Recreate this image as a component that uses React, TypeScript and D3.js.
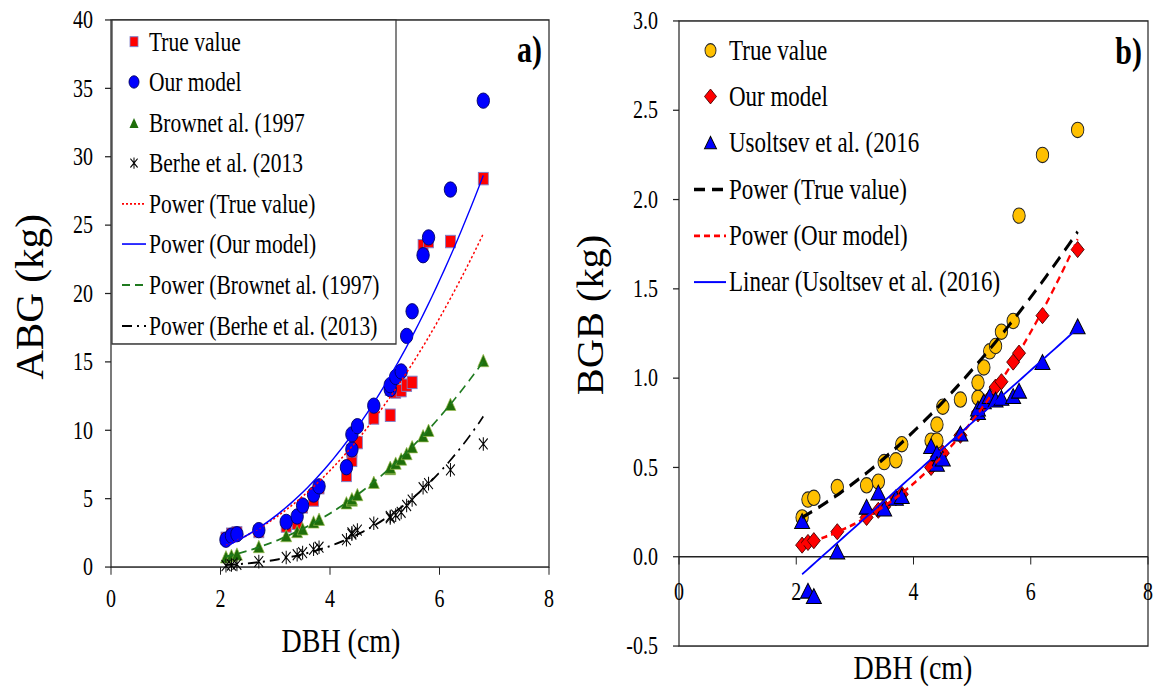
import React from 'react';
import * as d3 from 'd3';

// DBH (cm) of the 24 sampled trees, shared by both panels
const dbh = [2.1, 2.2, 2.3, 2.7, 3.2, 3.4, 3.5, 3.7, 3.8, 4.3, 4.4, 4.4, 4.5, 4.8, 5.1, 5.1, 5.2, 5.3, 5.4, 5.5, 5.7, 5.8, 6.2, 6.8];

// panel a) ABG (kg)
const abgTrue = [2.1, 2.4, 2.5, 2.6, 3.0, 3.2, 4.4, 4.9, 5.8, 6.7, 7.8, 8.5, 9.1, 10.9, 11.1, 13.0, 12.8, 12.9, 13.3, 13.5, 23.5, 23.8, 23.8, 28.4];
const abgOur = [2.0, 2.3, 2.4, 2.7, 3.3, 3.7, 4.5, 5.3, 5.9, 7.3, 8.6, 9.7, 10.3, 11.8, 13.0, 13.3, 13.9, 14.3, 16.9, 18.7, 22.8, 24.1, 27.6, 34.1];
const abgBrown = [0.75, 0.85, 0.95, 1.5, 2.3, 2.6, 2.8, 3.3, 3.5, 4.7, 4.9, 5.0, 5.3, 6.2, 7.2, 7.3, 7.6, 7.9, 8.3, 8.8, 9.6, 10.0, 11.9, 15.1];
const abgBerhe = [0.1, 0.15, 0.2, 0.4, 0.7, 0.9, 1.05, 1.3, 1.45, 2.0, 2.4, 2.5, 2.7, 3.2, 3.6, 3.7, 3.8, 4.0, 4.5, 4.9, 5.8, 6.1, 7.1, 9.0];

// panel b) BGB (kg)
const bgbTrue = [0.22, 0.32, 0.33, 0.39, 0.4, 0.42, 0.53, 0.54, 0.63, 0.65, 0.65, 0.74, 0.84, 0.88, 0.89, 0.975, 1.06, 1.15, 1.18, 1.26, 1.32, 1.91, 2.25, 2.39];
const bgbOur = [0.065, 0.08, 0.09, 0.14, 0.22, 0.26, 0.28, 0.33, 0.35, 0.5, 0.55, 0.56, 0.58, 0.68, 0.8, 0.81, 0.85, 0.89, 0.95, 0.98, 1.09, 1.14, 1.35, 1.72];
const bgbUsol = [0.2, -0.19, -0.22, 0.03, 0.28, 0.36, 0.27, 0.33, 0.34, 0.62, 0.58, 0.52, 0.55, 0.69, 0.81, 0.83, 0.87, 0.9, 0.88, 0.89, 0.9, 0.93, 1.09, 1.29];

const xTicks = [0, 2, 4, 6, 8];
const yTicksA = [0, 5, 10, 15, 20, 25, 30, 35, 40];
const yTicksB = [-0.5, 0, 0.5, 1, 1.5, 2, 2.5, 3];

const legendA = ['True value', 'Our model', 'Brownet al. (1997', 'Berhe et al. (2013', 'Power (True value)', 'Power (Our model)', 'Power (Brownet al. (1997)', 'Power (Berhe et al. (2013)'];
const legendB = ['True value', 'Our model', 'Usoltsev et al. (2016', 'Power (True value)', 'Power (Our model)', 'Linear (Usoltsev et al. (2016)'];

const W = 1153;
const H = 688;
const SY = 1.24; // the source figure is stretched vertically
const FONT = '"Liberation Serif", "Times New Roman", serif';

// least squares fits, like the spreadsheet trendlines
function linFit(xs: number[], ys: number[]) {
  const mx = d3.mean(xs)!;
  const my = d3.mean(ys)!;
  let sxy = 0, sxx = 0;
  xs.forEach((x, i) => { sxy += (x - mx) * (ys[i] - my); sxx += (x - mx) * (x - mx); });
  const b = sxy / sxx;
  return { a: my - b * mx, b };
}
function powerCurve(xs: number[], ys: number[]) {
  const f = linFit(xs.map(Math.log), ys.map(Math.log));
  return (x: number) => Math.exp(f.a) * Math.pow(x, f.b);
}
function linearCurve(xs: number[], ys: number[]) {
  const f = linFit(xs, ys);
  return (x: number) => f.a + f.b * x;
}
function sample(fn: (x: number) => number, xs: number[]): [number, number][] {
  const [lo, hi] = d3.extent(xs) as [number, number];
  return d3.range(61).map(i => {
    const x = lo + ((hi - lo) * i) / 60;
    return [x, fn(x)];
  });
}

const tri = (x: number, y: number, w: number, h: number) =>
  `M${x},${y - h / 2}L${x + w / 2},${y + h / 2}L${x - w / 2},${y + h / 2}Z`;
const diamond = (x: number, y: number, r: number) =>
  `M${x},${y - r}L${x + r},${y}L${x},${y + r}L${x - r},${y}Z`;
const star = (x: number, y: number, r: number) =>
  `M${x - r * 0.8},${y - r * 0.8}L${x + r * 0.8},${y + r * 0.8}M${x - r * 0.8},${y + r * 0.8}L${x + r * 0.8},${y - r * 0.8}M${x},${y - r}L${x},${y + r}`;

export default function App() {
  const xA = d3.scaleLinear().domain([0, 8]).range([111, 549]);
  const yA = d3.scaleLinear().domain([0, 40]).range([457.3, 16.1]);
  const xB = d3.scaleLinear().domain([0, 8]).range([679, 1148]);
  const yB = d3.scaleLinear().domain([-0.5, 3]).range([521, 16.9]);

  const lineA = d3.line<[number, number]>().x(d => xA(d[0])).y(d => yA(d[1]));
  const lineB = d3.line<[number, number]>().x(d => xB(d[0])).y(d => yB(d[1]));

  const fitA = [
    { pts: sample(powerCurve(dbh, abgTrue), dbh), stroke: '#ff0000', w: 1.4, dash: '2,2' },
    { pts: sample(powerCurve(dbh, abgOur), dbh), stroke: '#0000ff', w: 1.3, dash: '' },
    { pts: sample(powerCurve(dbh, abgBrown), dbh), stroke: '#1f7a1f', w: 1.5, dash: '8,5' },
    { pts: sample(powerCurve(dbh, abgBerhe), dbh), stroke: '#000000', w: 1.6, dash: '10,5,2,5' },
  ];
  const fitB = [
    { pts: sample(powerCurve(dbh, bgbTrue), dbh), stroke: '#000000', w: 2.8, dash: '11,7' },
    { pts: sample(powerCurve(dbh, bgbOur), dbh), stroke: '#ff0000', w: 2.2, dash: '6,4' },
    { pts: sample(linearCurve(dbh, bgbUsol), dbh), stroke: '#0000ff', w: 1.6, dash: '' },
  ];

  const legYA = [33.6, 66.1, 99.2, 131.5, 164.5, 196.8, 229.8, 262.9];
  const legYB = [40.7, 77.8, 115, 152.9, 190.3, 227.5];

  return (
    <svg width={W} height={H} style={{ position: 'absolute', left: 0, top: 0, background: '#fff' }} fontFamily={FONT}>
      <g transform={`scale(1,${SY})`}>
        {/* ---------- panel a ---------- */}
        <rect x={111} y={16.1} width={438} height={457.3 - 16.1} fill="none" stroke="#222" strokeWidth={1.2} />
        {yTicksA.map(t => (
          <g key={'ya' + t}>
            <line x1={105} x2={111} y1={yA(t)} y2={yA(t)} stroke="#222" />
            <text x={93} y={yA(t)} textAnchor="end" dominantBaseline="central" fontSize={20}>{t}</text>
          </g>
        ))}
        {xTicks.map(t => (
          <g key={'xa' + t}>
            <line x1={xA(t)} x2={xA(t)} y1={457.3} y2={463.5} stroke="#222" />
            <text x={xA(t)} y={483} textAnchor="middle" dominantBaseline="central" fontSize={20}>{t}</text>
          </g>
        ))}
        <text transform="translate(30,239.5) rotate(-90) scale(0.83,1)" textAnchor="middle" dominantBaseline="central" fontSize={40}>ABG (kg)</text>
        <text x={341} y={526} textAnchor="middle" fontSize={28}>DBH (cm)</text>
        <text x={542} y={50} textAnchor="end" fontSize={30} fontWeight="bold">a)</text>

        {dbh.map((x, i) => (
          <rect key={'sq' + i} x={xA(x) - 5} y={yA(abgTrue[i]) - 5} width={10} height={10} fill="#ff0000" stroke="#7f7fc8" strokeWidth={0.8} />
        ))}
        {dbh.map((x, i) => (
          <circle key={'ci' + i} cx={xA(x)} cy={yA(abgOur[i])} r={6.2} fill="#0000ff" stroke="#000060" strokeWidth={0.8} />
        ))}
        {dbh.map((x, i) => (
          <path key={'tr' + i} d={tri(xA(x), yA(abgBrown[i]), 11, 10)} fill="#1f6e0a" stroke="#9fbf50" strokeWidth={0.6} />
        ))}
        {dbh.map((x, i) => (
          <path key={'st' + i} d={star(xA(x), yA(abgBerhe[i]), 5.5)} fill="none" stroke="#000" strokeWidth={1} />
        ))}
        {fitA.map((f, i) => (
          <path key={'fa' + i} d={lineA(f.pts)!} fill="none" stroke={f.stroke} strokeWidth={f.w} strokeDasharray={f.dash} />
        ))}

        <rect x={112} y={16.1} width={284} height={261.3} fill="#fff" stroke="#333" strokeWidth={1.2} />
        <rect x={130} y={legYA[0] - 4} width={8} height={8} fill="#ff0000" stroke="#7f7fc8" strokeWidth={0.8} />
        <circle cx={134} cy={legYA[1]} r={5} fill="#0000ff" stroke="#000060" strokeWidth={0.8} />
        <path d={tri(134, legYA[2], 9, 8)} fill="#1f6e0a" />
        <path d={star(134, legYA[3], 4.5)} fill="none" stroke="#000" strokeWidth={1} />
        {fitA.map((f, i) => (
          <line key={'la' + i} x1={122} x2={146} y1={legYA[4 + i]} y2={legYA[4 + i]} stroke={f.stroke} strokeWidth={f.w} strokeDasharray={f.dash} />
        ))}
        {legendA.map((s, i) => (
          <text key={'lta' + i} x={149} y={legYA[i]} dominantBaseline="central" fontSize={21.5}>{s}</text>
        ))}

        {/* ---------- panel b ---------- */}
        <rect x={679} y={16.9} width={469} height={521 - 16.9} fill="none" stroke="#222" strokeWidth={1.2} />
        <line x1={679} x2={1148} y1={yB(0)} y2={yB(0)} stroke="#222" strokeWidth={1.2} />
        {yTicksB.map(t => (
          <g key={'yb' + t}>
            <line x1={673} x2={679} y1={yB(t)} y2={yB(t)} stroke="#222" />
            <text x={658} y={yB(t)} textAnchor="end" dominantBaseline="central" fontSize={20}>{t.toFixed(1)}</text>
          </g>
        ))}
        {xTicks.map(t => (
          <g key={'xb' + t}>
            <line x1={xB(t)} x2={xB(t)} y1={yB(0)} y2={yB(0) + 6.2} stroke="#222" />
            <text x={xB(t)} y={477.6} textAnchor="middle" dominantBaseline="central" fontSize={20}>{t}</text>
          </g>
        ))}
        <text transform="translate(590,254) rotate(-90) scale(0.88,1)" textAnchor="middle" dominantBaseline="central" fontSize={37}>BGB (kg)</text>
        <text x={913} y={547.5} textAnchor="middle" fontSize={28}>DBH (cm)</text>
        <text x={1142} y={51.5} textAnchor="end" fontSize={30} fontWeight="bold">b)</text>

        {dbh.map((x, i) => (
          <circle key={'yc' + i} cx={xB(x)} cy={yB(bgbTrue[i])} r={6.2} fill="#ffc000" stroke="#222" strokeWidth={0.9} />
        ))}
        {dbh.map((x, i) => (
          <path key={'di' + i} d={diamond(xB(x), yB(bgbOur[i]), 6.5)} fill="#ff0000" stroke="#400" strokeWidth={0.8} />
        ))}
        {dbh.map((x, i) => (
          <path key={'bt' + i} d={tri(xB(x), yB(bgbUsol[i]), 15, 12)} fill="#0000ff" stroke="#000" strokeWidth={0.9} />
        ))}
        {fitB.map((f, i) => (
          <path key={'fb' + i} d={lineB(f.pts)!} fill="none" stroke={f.stroke} strokeWidth={f.w} strokeDasharray={f.dash} />
        ))}

        <circle cx={710.5} cy={legYB[0]} r={5.5} fill="#ffc000" stroke="#222" strokeWidth={0.9} />
        <path d={diamond(710.5, legYB[1], 6)} fill="#ff0000" stroke="#400" strokeWidth={0.8} />
        <path d={tri(710.5, legYB[2], 12, 10)} fill="#0000ff" stroke="#000" strokeWidth={0.9} />
        {fitB.map((f, i) => (
          <line key={'lb' + i} x1={694} x2={726} y1={legYB[3 + i]} y2={legYB[3 + i]} stroke={f.stroke} strokeWidth={f.w} strokeDasharray={f.dash} />
        ))}
        {legendB.map((s, i) => (
          <text key={'ltb' + i} x={729} y={legYB[i]} dominantBaseline="central" fontSize={23}>{s}</text>
        ))}
      </g>
    </svg>
  );
}
